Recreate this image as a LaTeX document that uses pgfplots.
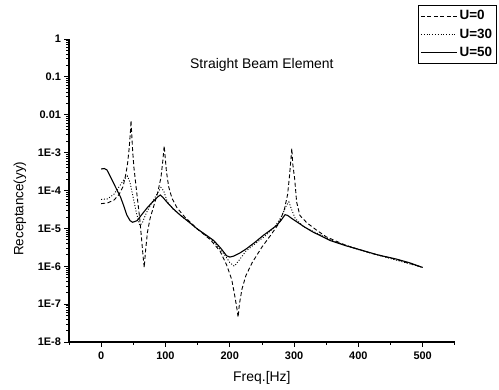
\documentclass[border=0pt]{standalone}
\usepackage{pgfplots}
\pgfplotsset{compat=1.18}
\usepackage{fontspec}
\setmainfont{Liberation Sans}

\pgfplotstableread{
f v
0 4.5e-5
10 4.7e-5
20 5.6e-5
28 7.9e-5
34 1.26e-4
38 2.5e-4
41 5e-4
43.5 1.26e-3
45.5 3.5e-3
46.5 7e-3
47.5 3.2e-3
49 1.1e-3
51 4e-4
54 1.4e-4
57 5e-5
60 1.8e-5
63 5e-6
65 2e-6
67 9.3e-7
69 2.5e-6
72 7.9e-6
76 1.8e-5
82 4e-5
88 8.9e-5
93 2.2e-4
96 6.3e-4
98 1.5e-3
99.5 7.9e-4
101.5 3.2e-4
105 1.26e-4
110 6.3e-5
118 3.5e-5
130 2e-5
150 9.5e-6
170 5e-6
185 2.5e-6
195 1.1e-6
203 4.5e-7
208 1.6e-7
211 7.9e-8
213 4.5e-8
215 1e-7
219 2.5e-7
225 5.6e-7
235 1.26e-6
250 3.2e-6
265 7.1e-6
277 1.4e-5
285 3.2e-5
290 7.9e-5
293 2.5e-4
295 6.3e-4
296.5 1.3e-3
298 5e-4
301 2e-4
304 5e-5
309 2.2e-5
320 1.4e-5
335 9e-6
350 6e-6
380 3.6e-6
420 2.2e-6
460 1.5e-6
500 9.3e-7
}\uzero

\pgfplotstableread{
f v
0 5.8e-5
10 6e-5
20 8e-5
28 1.26e-4
35 1.9e-4
41 2.4e-4
45 1.6e-4
50 6.3e-5
55 2.5e-5
60 1.2e-5
64 1.4e-5
70 2.5e-5
78 4.5e-5
86 7.6e-5
93 1.2e-4
97 1e-4
103 5e-5
112 3.2e-5
125 2.1e-5
150 9.5e-6
175 4.5e-6
192 2e-6
200 1.26e-6
207 1e-6
214 1.4e-6
225 2.5e-6
240 4e-6
255 6.3e-6
270 1.1e-5
280 2e-5
288 4e-5
292 5e-5
296 3.2e-5
302 1.8e-5
315 1.1e-5
330 8.3e-6
360 4.7e-6
400 2.75e-6
450 1.6e-6
500 9.3e-7
}\uthirty

\pgfplotstableread{
f v
0 3.7e-4
5 3.8e-4
9 3.5e-4
14 2.4e-4
19.5 1.55e-4
25 1.0e-4
30 6.8e-5
35 4.0e-5
40 2.24e-5
45 1.6e-5
49 1.45e-5
56 1.6e-5
63 2.3e-5
71 3.4e-5
80 5.0e-5
88 6.8e-5
92 7.6e-5
96 6.6e-5
102 5.0e-5
112 3.3e-5
123 2.24e-5
136 1.5e-5
149 9.8e-6
162 6.9e-6
175 4.8e-6
186 3.0e-6
195 1.9e-6
200 1.75e-6
206 1.85e-6
215 2.2e-6
226 2.9e-6
240 4.4e-6
252 6.5e-6
263 8.9e-6
273 1.2e-5
280 1.65e-5
286 2.3e-5
290 2.2e-5
297 1.8e-5
304 1.5e-5
317 1.07e-5
330 7.9e-6
343 6.2e-6
356 4.8e-6
380 3.5e-6
407 2.6e-6
430 2.0e-6
459 1.55e-6
480 1.23e-6
500 9.3e-7
}\ufifty

\begin{document}
\begin{tikzpicture}[x=1bp,y=1bp]
\useasboundingbox (-69,-47) rectangle (430,342);
\begin{axis}[at={(0,0)}, anchor=south west, scale only axis,
 width=385.8bp, height=303bp,
 ymode=log, xmin=-50, xmax=550, ymin=1e-8, ymax=1,
 axis x line*=bottom, axis y line*=left,
 xtick={0,100,200,300,400,500},
 minor xtick={-50,50,150,250,350,450,550},
 ytick={1e-8,1e-7,1e-6,1e-5,1e-4,1e-3,1e-2,1e-1,1},
 yticklabels={1E-8,1E-7,1E-6,1E-5,1E-4,1E-3,0.01,0.1,1},
 minor ytick={2e-8,3e-8,4e-8,5e-8,6e-8,7e-8,8e-8,9e-8,
  2e-7,3e-7,4e-7,5e-7,6e-7,7e-7,8e-7,9e-7,
  2e-6,3e-6,4e-6,5e-6,6e-6,7e-6,8e-6,9e-6,
  2e-5,3e-5,4e-5,5e-5,6e-5,7e-5,8e-5,9e-5,
  2e-4,3e-4,4e-4,5e-4,6e-4,7e-4,8e-4,9e-4,
  2e-3,3e-3,4e-3,5e-3,6e-3,7e-3,8e-3,9e-3,
  2e-2,3e-2,4e-2,5e-2,6e-2,7e-2,8e-2,9e-2,
  2e-1,3e-1,4e-1,5e-1,6e-1,7e-1,8e-1,9e-1},
 tick align=outside, major tick length=4.5bp, minor tick length=2.5bp,
 tick style={black, line width=0.8pt},
 axis line style={line width=1.1pt},
 ticklabel style={font=\fontsize{11}{12}\selectfont\bfseries},
 xticklabel style={yshift=-2bp},
 /pgf/number format/assume math mode=true,
 xlabel={Freq.[Hz]}, ylabel={Receptance(yy)},
 xlabel style={at={(axis description cs:0.5,-0.119)}, anchor=center, font=\fontsize{14}{15}\selectfont},
 ylabel style={at={(axis description cs:-0.127,0.44)}, anchor=center, font=\fontsize{13.5}{15}\selectfont},
 legend style={at={(axis description cs:0.9046,1.112)}, anchor=north west,
   draw=black, line width=0.9pt, font=\fontsize{13.5}{15}\selectfont\bfseries,
   inner xsep=2bp, inner ysep=3bp, row sep=3.5bp, legend cell align=left},
 legend image code/.code={\draw[#1] (0bp,0bp) -- (36bp,0bp);},
 clip=false,
]
\addplot[black, line width=0.9pt, dash pattern=on 4pt off 2.5pt] table[x=f,y=v] {\uzero};
\addlegendentry{U=0}
\addplot[black, line width=0.9pt, dash pattern=on 1pt off 1.8pt] table[x=f,y=v] {\uthirty};
\addlegendentry{U=30}
\addplot[black, line width=1.1pt] table[x=f,y=v] {\ufifty};
\addlegendentry{U=50}
\node[font=\fontsize{14}{15}\selectfont] at (axis description cs:0.5,0.914) {Straight Beam Element};
\end{axis}
\end{tikzpicture}
\end{document}
